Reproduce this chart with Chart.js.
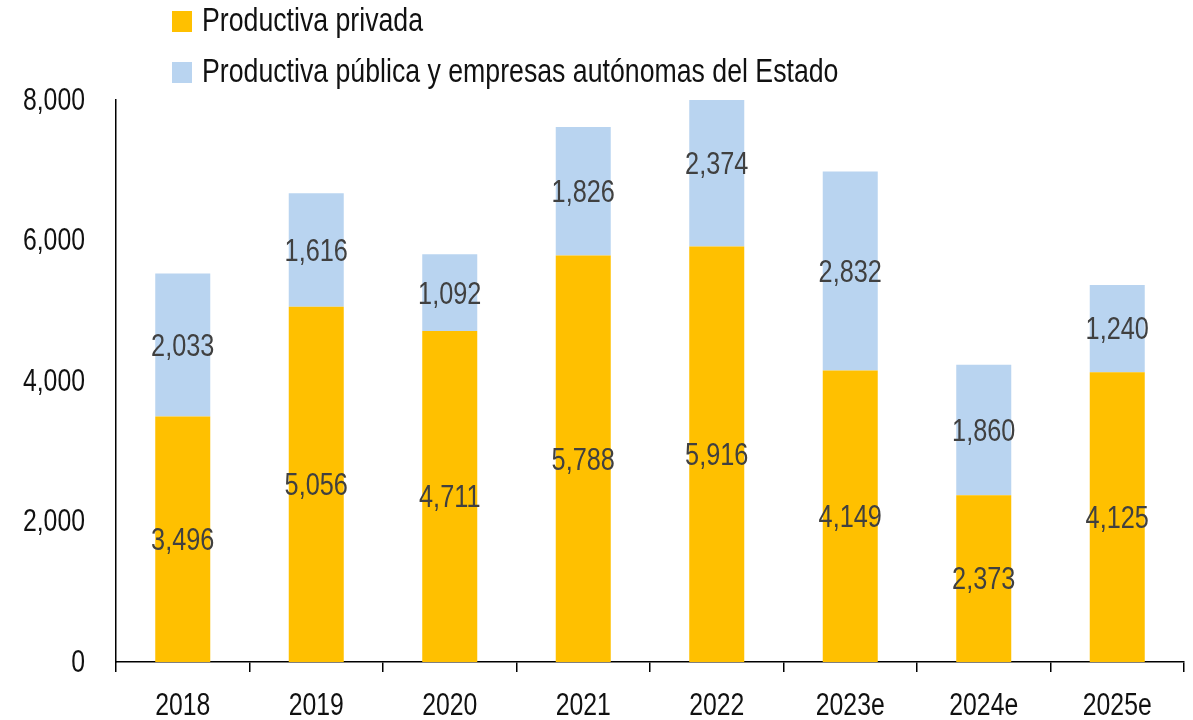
<!DOCTYPE html>
<html>
<head>
<meta charset="utf-8">
<script src="https://cdn.jsdelivr.net/npm/chart.js@4.4.0/dist/chart.umd.min.js"></script>
<style>
  html, body { margin: 0; padding: 0; background: #fff; }
  #wrap { width: 1193px; height: 720px; }
</style>
</head>
<body>
<div id="wrap"><canvas id="chart" width="1193" height="720"></canvas></div>
<script>
const FONT = "'Liberation Sans', Arial, sans-serif";

const years = ['2018', '2019', '2020', '2021', '2022', '2023e', '2024e', '2025e'];
const privada = [3496, 5056, 4711, 5788, 5916, 4149, 2373, 4125];
const publica = [2033, 1616, 1092, 1826, 2374, 2832, 1860, 1240];
const yTicks = [0, 2000, 4000, 6000, 8000];

const seriesNames = ['Productiva privada', 'Productiva pública y empresas autónomas del Estado'];
const seriesColors = ['#FFC000', '#B9D4F0'];

// no narrow font installed, so squeeze Liberation Sans horizontally
function narrowText(c, text, x, y, align, size, squeeze, color) {
    c.save();
    c.translate(x, y);
    c.scale(squeeze, 1);
    c.font = size + 'px ' + FONT;
    c.fillStyle = color;
    c.textAlign = align;
    c.textBaseline = 'middle';
    c.fillText(text, 0, 0);
    c.restore();
}

// value labels in the middle of each segment
const segmentLabels = {
    id: 'segmentLabels',
    afterDatasetsDraw(chart) {
        const c = chart.ctx;
        chart.data.datasets.forEach((ds, i) => {
            chart.getDatasetMeta(i).data.forEach((bar, j) => {
                const p = bar.getProps(['x', 'y', 'base'], true);
                narrowText(c, ds.data[j].toLocaleString('en-US'), p.x, (p.y + p.base) / 2 + 2, 'center', 32, 0.79, '#404040');
            });
        });
    }
};

// axis labels, drawn narrow at the scales' own pixel positions
const axisLabels = {
    id: 'axisLabels',
    afterDraw(chart) {
        const c = chart.ctx;
        const xs = chart.scales.x, ys = chart.scales.y;
        years.forEach((yr, i) => {
            narrowText(c, yr, xs.getPixelForTick(i), 706, 'center', 31, 0.8, '#111');
        });
        yTicks.forEach(v => {
            narrowText(c, v.toLocaleString('en-US'), 85, ys.getPixelForValue(v) + 1, 'right', 31, 0.8, '#111');
        });
    }
};

// legend stacked in two rows, top left
const stackedLegend = {
    id: 'stackedLegend',
    afterDraw(chart) {
        const c = chart.ctx;
        seriesNames.forEach((name, i) => {
            const cy = 21 + i * 51;
            c.fillStyle = seriesColors[i];
            c.fillRect(172, cy - 10, 20, 21);
            narrowText(c, name, 202, cy + 1, 'left', 34, 0.785, '#111');
        });
    }
};

new Chart(document.getElementById('chart'), {
    type: 'bar',
    data: {
        labels: years,
        datasets: [
            { label: seriesNames[0], data: privada, backgroundColor: seriesColors[0] },
            { label: seriesNames[1], data: publica, backgroundColor: seriesColors[1] }
        ]
    },
    options: {
        responsive: false,
        animation: false,
        devicePixelRatio: 1,
        layout: { padding: { top: 100, right: 9, left: 0, bottom: 0 } },
        datasets: { bar: { categoryPercentage: 1, barPercentage: 0.412 } },
        plugins: {
            legend: { display: false },
            tooltip: { enabled: false }
        },
        scales: {
            x: {
                stacked: true,
                offset: true,
                border: { color: '#000', width: 1.5 },
                grid: { display: true, offset: true, drawOnChartArea: false, drawTicks: true, tickLength: 10, color: '#000', lineWidth: 1.5 },
                ticks: { display: false },
                afterFit(scale) { scale.height = 58; }
            },
            y: {
                stacked: true,
                min: 0,
                max: 8000,
                afterBuildTicks(scale) { scale.ticks = yTicks.map(v => ({ value: v })); },
                border: { color: '#000', width: 1.5 },
                grid: { display: false, drawTicks: false },
                ticks: { display: false },
                afterFit(scale) { scale.width = 116; }
            }
        }
    },
    plugins: [segmentLabels, axisLabels, stackedLegend]
});
</script>
</body>
</html>
